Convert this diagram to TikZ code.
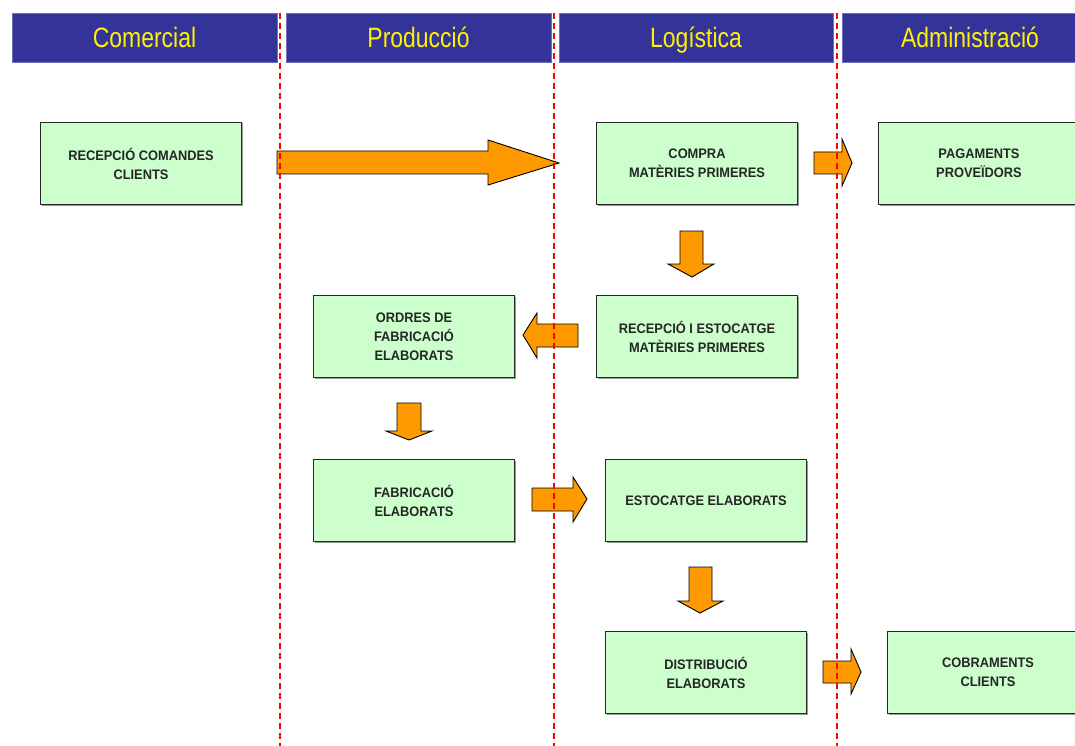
\documentclass[tikz,border=0pt]{standalone}
\usepackage{fontspec}
\setmainfont{Liberation Sans}
\newfontfamily\headfont[FakeStretch=0.82]{Liberation Sans}
\newfontfamily\boxfont[FakeStretch=0.93]{Liberation Sans}
\definecolor{hdrblue}{HTML}{333399}
\definecolor{hdredge}{HTML}{6F6FB5}
\definecolor{boxgreen}{HTML}{CCFFCC}
\definecolor{arroworange}{HTML}{FF9900}
\tikzset{
  hdr/.style={fill=hdrblue, draw=hdredge, line width=0.8pt},
  hdrtext/.style={text=yellow, font=\headfont\fontsize{28}{30}\selectfont, anchor=base},
  procbox/.style={draw=black!85, line width=1pt, fill=boxgreen, minimum width=201pt, minimum height=82pt,
    align=center, inner sep=0pt, font=\boxfont\bfseries\fontsize{13.8}{19}\selectfont, text=black!85,
    anchor=north west},
  boxshadow/.style={fill=black!40},
  lane/.style={red, line width=1.2pt, dash pattern=on 6pt off 4pt},
  blockarrow/.style={fill=arroworange, draw=black, line width=0.9pt, line join=miter},
}
\begin{document}
\begin{tikzpicture}[x=1pt,y=-1pt]
\useasboundingbox (0,0) rectangle (1075,746);
\clip (0,0) rectangle (1075,746);
\fill[white] (0,0) rectangle (1075,746);

% headers
\draw[hdr] (12,13) rectangle (277,62);
\draw[hdr] (286,13) rectangle (551,62);
\draw[hdr] (559,13) rectangle (833,62);
\draw[hdr] (842,13) rectangle (1080,62);
\node[hdrtext] (hC) at (144.5,48) {Comercial};
\node[hdrtext] (hP) at (418.5,48) {Producció};
\node[hdrtext] (hL) at (696,48) {Logística};
\node[hdrtext] (hA) at (970,48) {Administració};

% shadows
\foreach \x/\y in {40/122, 596/122, 878/122, 313/295, 596/295, 313/459, 605/459, 605/631, 887/631}
  \fill[boxshadow] (\x+1.5,\y+1.5) rectangle (\x+202.5,\y+83.5);

% boxes
\node[procbox] (rcc) at (40,122) {RECEPCIÓ COMANDES\\CLIENTS};
\node[procbox] (cmp) at (596,122) {COMPRA\\MATÈRIES PRIMERES};
\node[procbox] (pag) at (878,122) {PAGAMENTS\\PROVEÏDORS};
\node[procbox] (ofe) at (313,295) {ORDRES DE\\FABRICACIÓ\\ELABORATS};
\node[procbox] (rem) at (596,295) {RECEPCIÓ I ESTOCATGE\\MATÈRIES PRIMERES};
\node[procbox] (fab) at (313,459) {FABRICACIÓ\\ELABORATS};
\node[procbox] (est) at (605,459) {ESTOCATGE ELABORATS};
\node[procbox] (dis) at (605,631) {DISTRIBUCIÓ\\ELABORATS};
\node[procbox] (cob) at (887,631) {COBRAMENTS\\CLIENTS};

% block arrows
\draw[blockarrow] (277,151) -- (488,151) -- (488,140) -- (559,163) -- (488,185) -- (488,174) -- (277,174) -- cycle;
\draw[blockarrow] (814,152) -- (842,152) -- (842,139) -- (852,163) -- (842,186) -- (842,174) -- (814,174) -- cycle;
\draw[blockarrow] (680,231) -- (703,231) -- (703,264) -- (714,264) -- (692,277) -- (668,264) -- (680,264) -- cycle;
\draw[blockarrow] (578,324) -- (537,324) -- (537,313) -- (523,335) -- (537,358) -- (537,347) -- (578,347) -- cycle;
\draw[blockarrow] (397,403) -- (421,403) -- (421,431) -- (432,431) -- (409,440) -- (386,431) -- (397,431) -- cycle;
\draw[blockarrow] (532,488) -- (573,488) -- (573,477) -- (587,499) -- (573,522) -- (573,511) -- (532,511) -- cycle;
\draw[blockarrow] (689,567) -- (712,567) -- (712,601) -- (723,601) -- (700,613) -- (678,601) -- (689,601) -- cycle;
\draw[blockarrow] (823,661) -- (851,661) -- (851,649) -- (861,672) -- (851,694) -- (851,683) -- (823,683) -- cycle;

% lane separators
\coordinate (l1t) at (280,13); \coordinate (l1b) at (280,746);
\coordinate (l2t) at (554,13); \coordinate (l2b) at (554,746);
\coordinate (l3t) at (837,13); \coordinate (l3b) at (837,746);
\draw[lane] (l1t) -- (l1b);
\draw[lane] (l2t) -- (l2b);
\draw[lane] (l3t) -- (l3b);
\end{tikzpicture}
\end{document}
